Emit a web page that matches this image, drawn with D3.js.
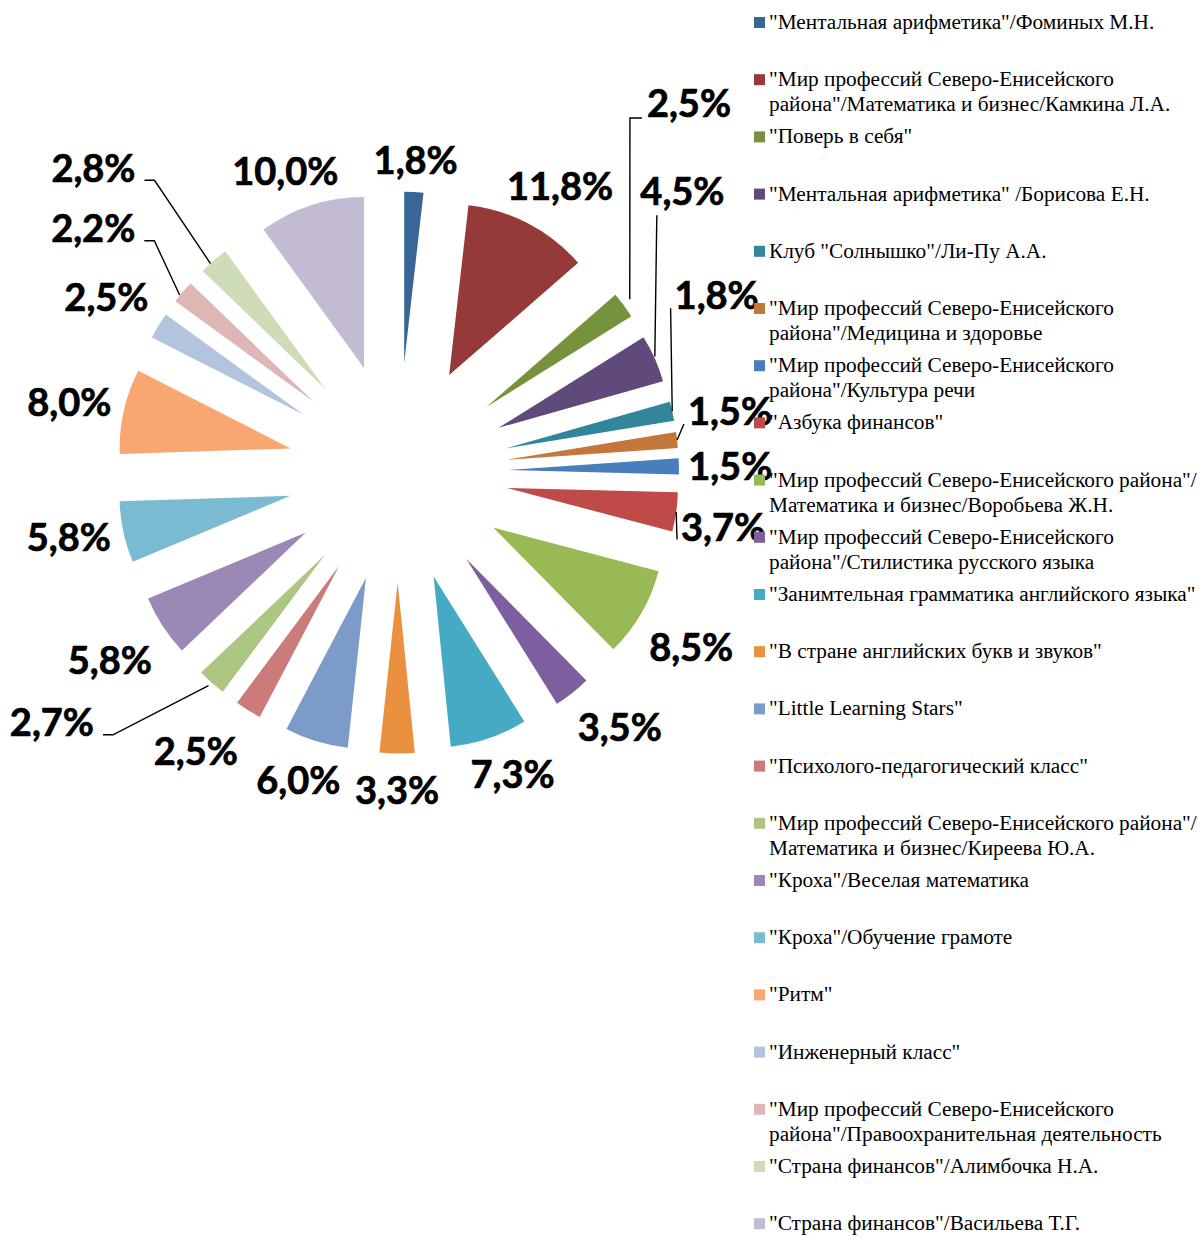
<!DOCTYPE html>
<html><head><meta charset="utf-8">
<script src="https://cdn.jsdelivr.net/npm/d3@7"></script>
<style>body{margin:0;background:#fff}svg{display:block}</style>
</head><body>
<svg id="chart" width="1201" height="1237"></svg>
<script>
const categories = [
  ['"Ментальная арифметика"/Фоминых М.Н.'],
  ['"Мир профессий Северо-Енисейского','района"/Математика и бизнес/Камкина Л.А.'],
  ['"Поверь в себя"'],
  ['"Ментальная арифметика" /Борисова Е.Н.'],
  ['Клуб "Солнышко"/Ли-Пу А.А.'],
  ['"Мир профессий Северо-Енисейского','района"/Медицина и здоровье'],
  ['"Мир профессий Северо-Енисейского','района"/Культура речи'],
  ['"Азбука финансов"'],
  ['"Мир профессий Северо-Енисейского района"/','Математика и бизнес/Воробьева Ж.Н.'],
  ['"Мир профессий Северо-Енисейского','района"/Стилистика русского языка'],
  ['"Занимтельная грамматика английского языка"'],
  ['"В стране английских букв и звуков"'],
  ['"Little Learning Stars"'],
  ['"Психолого-педагогический класс"'],
  ['"Мир профессий Северо-Енисейского района"/','Математика и бизнес/Киреева Ю.А.'],
  ['"Кроха"/Веселая математика'],
  ['"Кроха"/Обучение грамоте'],
  ['"Ритм"'],
  ['"Инженерный класс"'],
  ['"Мир профессий Северо-Енисейского','района"/Правоохранительная деятельность'],
  ['"Страна финансов"/Алимбочка Н.А.'],
  ['"Страна финансов"/Васильева Т.Г.']
];
const values = [1.8, 11.8, 2.5, 4.5, 1.8, 1.5, 1.5, 3.7, 8.5, 3.5, 7.3, 3.3, 6.0, 2.5, 2.7, 5.8, 5.8, 8.0, 2.5, 2.2, 2.8, 10.0];
const colors = ['#3A6597','#953A38','#77923D','#604A7B','#32869C','#C4773A',
                '#4A7EBB','#BE4B48','#98B954','#7D5FA0','#46AAC5','#E9913F',
                '#7D9BC8','#CB7B79','#AEC683','#9B88B5','#7ABBD1','#F8A771',
                '#B3C4DF','#DFB6B6','#CEDDB7','#C3BAD3'];
// label layout tweaks (dx, dy) and leader line styles
const labelNudge = [[0,0],[7,9],[19,-167],[-27,-143],[-14,-102],[-6,-21],[-7,2],[-12,7],
                    [-1,5],[15,-6],[10,-3],[0,8],[-6,0],[-26,0],[-124,0],[-4,3],[4,-7],[4,5],
                    [-2,3],[-46,-27],[-85,-52],[-12,9]];
const leaders = [null,null,'tailR','below','direct','direct',null,'direct',
                 null,null,null,null,null,null,'tailL',null,null,null,
                 null,'tailL','tailL',null];

const svg = d3.select('#chart');
const cx = 398, cy = 472.5, R = 171, explode = 110;
const pie = d3.pie().sort(null).value(d => d).startAngle(0).endAngle(2*Math.PI);
const arcs = pie(values);
const arcGen = d3.arc().innerRadius(0).outerRadius(R);
const fmt = v => d3.format('.1f')(v).replace('.', ',') + '%';

const g = svg.append('g').attr('transform', `translate(${cx},${cy})`);
arcs.forEach((a, i) => {
  const mid = (a.startAngle + a.endAngle) / 2;
  a.ux = Math.sin(mid); a.uy = -Math.cos(mid);
  a.ox = explode * a.ux; a.oy = explode * a.uy;
});
g.selectAll('path.slice').data(arcs).join('path')
  .attr('class', 'slice')
  .attr('d', arcGen)
  .attr('fill', (d, i) => colors[i])
  .attr('transform', d => `translate(${d.ox},${d.oy})`);

// labels
const fs = 38, halfH = 13, pad = 16;
const lg = g.append('g');
const leaderG = g.append('g');
arcs.forEach((a, i) => {
  const t = lg.append('text')
    .attr('font-family', 'Lato, "Open Sans", sans-serif')
    .attr('font-weight', 700)
    .attr('font-size', fs)
    .attr('fill', '#000')
    .attr('stroke', '#000')
    .attr('stroke-width', 0.7)
    .attr('text-anchor', 'middle')
    .text(fmt(values[i]));
  const w = t.node().getComputedTextLength();
  const half = (w/2) * Math.abs(a.ux) + halfH * Math.abs(a.uy);
  const dist = R + pad + half;
  const lx = a.ox + dist * a.ux + labelNudge[i][0];
  const ly = a.oy + dist * a.uy + labelNudge[i][1];
  t.attr('x', lx).attr('y', ly + 0.35 * fs);
  const type = leaders[i];
  if (type) {
    const ax = a.ox + R * a.ux, ay = a.oy + R * a.uy;
    let pts;
    if (type === 'tailR') {
      const sx = lx - w/2 - 5, sy = ly + 14;
      pts = [[sx, sy], [sx - 12, sy], [ax + 6, ay - 6]];
    } else if (type === 'tailL') {
      const sx = lx + w/2 + 9, sy = ly + 12;
      pts = [[sx, sy], [sx + 10, sy], [ax - 3, ay + 3]];
    } else if (type === 'below') {
      pts = [[ax + 2, ly + 24], [ax, ay - 2]];
    } else {
      pts = [[lx - w/2 - 4, ly + 12], [ax, ay]];
    }
    leaderG.append('path')
      .attr('d', d3.line()(pts))
      .attr('fill', 'none')
      .attr('stroke', '#000')
      .attr('stroke-width', 1.4);
  }
});

// legend
const legX = 754, legY0 = 29, legStep = 57.2, lineH = 25;
const leg = svg.append('g');
categories.forEach((lines, i) => {
  const by = legY0 + i * legStep;
  leg.append('rect').attr('x', legX).attr('y', by - 12).attr('width', 11).attr('height', 11)
    .attr('fill', colors[i]);
  const t = leg.append('text')
    .attr('font-family', '"Liberation Serif", "Times New Roman", serif')
    .attr('font-size', 21.3).attr('fill', '#000');
  lines.forEach((ln, k) => {
    t.append('tspan').attr('x', 769).attr('y', by + k * lineH).text(ln);
  });
});
</script>
</body></html>
